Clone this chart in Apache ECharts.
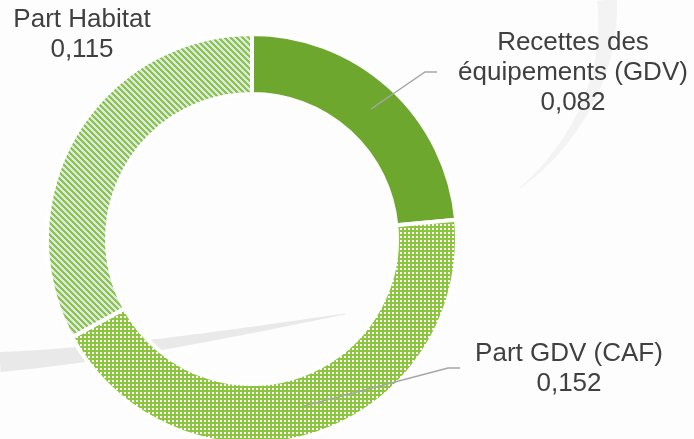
<!DOCTYPE html>
<html><head><meta charset="utf-8">
<script src="https://cdn.jsdelivr.net/npm/echarts@6/dist/echarts.min.js"></script>
<style>html,body{margin:0;padding:0;background:#fdfdfd}#c{width:694px;height:439px}</style>
</head><body><div id="c"></div>
<script>
// ---- data ----
const categories = ['Recettes des\néquipements (GDV)', 'Part GDV (CAF)', 'Part Habitat'];
const values = [0.082, 0.152, 0.115];

// ---- label placement (layout only) ----
const labelPos = [
  { x: 573, y: 73, line: [[371, 109], [425, 72], [437, 72]] },
  { x: 569, y: 369, line: [[304, 406], [448, 368], [460, 368]] },
  { x: 82, y: 35, line: null }
];

function makeDots() {
  const c = document.createElement('canvas'); c.width = 4; c.height = 4;
  const g = c.getContext('2d');
  g.fillStyle = '#8cc63f'; g.fillRect(0, 0, 4, 4);
  g.fillStyle = '#ffffff'; g.fillRect(0, 0, 2, 2);
  return c;
}
function makeHatch() {
  const n = 6;
  const c = document.createElement('canvas'); c.width = n; c.height = n;
  const g = c.getContext('2d');
  for (let y = 0; y < n; y++) for (let x = 0; x < n; x++) {
    g.fillStyle = (((x - y) % n + n) % n) < 3 ? '#8cc63f' : '#dce8ee';
    g.fillRect(x, y, 1, 1);
  }
  return c;
}
const fills = [
  '#6ea72e',
  { image: makeDots(), repeat: 'repeat' },
  { image: makeHatch(), repeat: 'repeat' }
];

// decorative tapered swoosh (background ornament)
function swoosh(p0, c1, c2, p3, w0, w1, n) {
  const top = [], bot = [];
  for (let i = 0; i <= n; i++) {
    const t = i / n, u = 1 - t;
    const x = u*u*u*p0[0] + 3*u*u*t*c1[0] + 3*u*t*t*c2[0] + t*t*t*p3[0];
    const y = u*u*u*p0[1] + 3*u*u*t*c1[1] + 3*u*t*t*c2[1] + t*t*t*p3[1];
    const dx = 3*u*u*(c1[0]-p0[0]) + 6*u*t*(c2[0]-c1[0]) + 3*t*t*(p3[0]-c2[0]);
    const dy = 3*u*u*(c1[1]-p0[1]) + 6*u*t*(c2[1]-c1[1]) + 3*t*t*(p3[1]-c2[1]);
    const len = Math.hypot(dx, dy) || 1;
    const w = (w0 + (w1 - w0) * t) / 2;
    top.push([x - dy / len * w, y + dx / len * w]);
    bot.push([x + dy / len * w, y - dx / len * w]);
  }
  return top.concat(bot.reverse());
}

const common = {
  type: 'pie',
  center: [252, 239],
  radius: [145, 205],
  startAngle: 90,
  clockwise: true,
  silent: true,
  emphasis: { disabled: true }
};

const chart = echarts.init(document.getElementById('c'), null, { renderer: 'canvas' });
chart.setOption({
  backgroundColor: '#fdfdfd',
  animation: false,
  graphic: [
    { type: 'polygon', z: -10, silent: true,
      shape: { points: swoosh([0, 362], [120, 354], [240, 332], [345, 314], 20, 1, 60) },
      style: { fill: '#e9e9e9' } },
    { type: 'polygon', z: -10, silent: true,
      shape: { points: swoosh([607, 0], [612, 70], [580, 140], [520, 188], 20, 1, 60) },
      style: { fill: '#f3f3f3' } }
  ],
  series: [
    Object.assign({}, common, {
      z: 2,
      itemStyle: { borderColor: '#ffffff', borderWidth: 4 },
      label: { show: false },
      labelLine: { show: false },
      data: categories.map((name, i) => ({ name: name, value: values[i], itemStyle: { color: fills[i] } }))
    }),
    Object.assign({}, common, {
      z: 5,
      itemStyle: { color: 'rgba(0,0,0,0)', borderWidth: 0 },
      label: {
        show: true,
        position: 'outside',
        overflow: 'none',
        fontFamily: 'Liberation Sans, Arial, sans-serif',
        fontSize: 26,
        lineHeight: 30,
        color: '#404040',
        align: 'center',
        formatter: p => p.name + '\n' + p.value.toFixed(3).replace('.', ',')
      },
      labelLine: { show: true, lineStyle: { color: '#a6a6a6', width: 1.5 } },
      labelLayout: function (p) {
        const L = labelPos[p.dataIndex];
        const r = { x: L.x, y: L.y, align: 'center', verticalAlign: 'middle' };
        if (L.line) r.labelLinePoints = L.line;
        return r;
      },
      data: categories.map((name, i) => ({
        name: name,
        value: values[i],
        labelLine: { show: !!labelPos[i].line }
      }))
    })
  ]
});
</script></body></html>
